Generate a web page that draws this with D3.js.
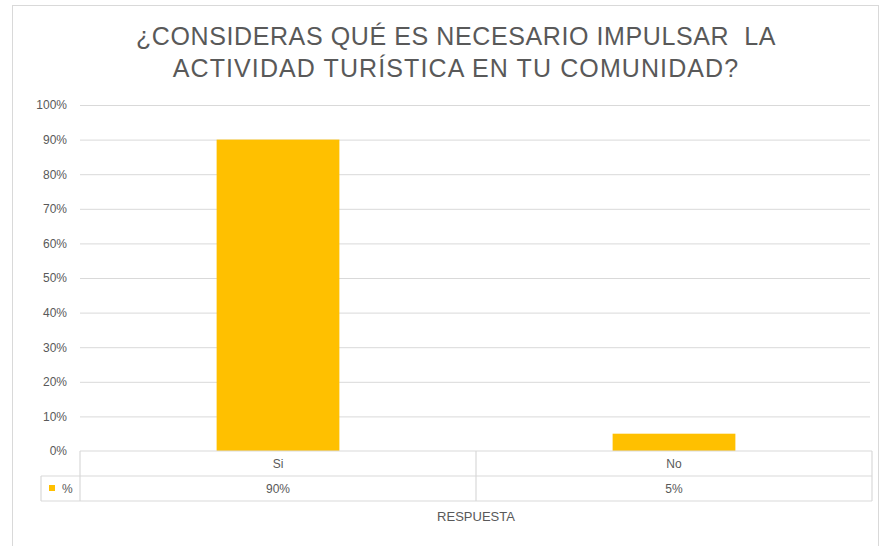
<!DOCTYPE html>
<html>
<head>
<meta charset="utf-8">
<script src="https://cdn.jsdelivr.net/npm/d3@7"></script>
<style>
  html, body { margin: 0; padding: 0; background: #fff; }
  svg { display: block; font-family: "Liberation Sans", Arial, sans-serif; }
</style>
</head>
<body>
<svg id="chart" width="881" height="546"></svg>
<script>
const titleLines = ["¿CONSIDERAS QUÉ ES NECESARIO IMPULSAR  LA", "ACTIVIDAD TURÍSTICA EN TU COMUNIDAD?"];
const categories = ["Si", "No"];
const values = [0.90, 0.05];
const valueLabels = ["90%", "5%"];
const seriesName = "%";
const yTicks = [0, 0.1, 0.2, 0.3, 0.4, 0.5, 0.6, 0.7, 0.8, 0.9, 1.0];
const xAxisTitle = "RESPUESTA";

const svg = d3.select("#chart");
const textColor = "#595959";
const gridColor = "#d9d9d9";
const barColor = "#FFC000";

// outer frame
svg.append("rect").attr("x", 12.5).attr("y", 5.5).attr("width", 866).attr("height", 600)
  .attr("fill", "none").attr("stroke", "#d9d9d9").attr("stroke-width", 1);

const plotLeft = 80, plotRight = 872, plotTop = 105, plotBottom = 451;
const x = d3.scaleBand().domain(categories).range([plotLeft, plotRight])
  .paddingInner(0.69).paddingOuter(0.345);
const xCell = d3.scaleBand().domain(categories).range([plotLeft, plotRight]).padding(0);
const y = d3.scaleLinear().domain([0, 1]).range([plotBottom, plotTop]);

// title
svg.append("g").selectAll("text").data(titleLines).join("text")
  .attr("x", 456).attr("y", (d, i) => 45 + i * 32)
  .attr("text-anchor", "middle").attr("font-size", 25).attr("fill", textColor)
  .attr("letter-spacing", (d, i) => i === 0 ? 0.6 : 1.1)
  .attr("xml:space", "preserve").style("white-space", "pre")
  .text(d => d);

// gridlines + y axis
const yAxis = d3.axisLeft(y).tickValues(yTicks).tickFormat(d3.format(".0%"))
  .tickSize(-(plotRight - plotLeft - 2)).tickPadding(13);
const gy = svg.append("g").attr("transform", `translate(${plotLeft},0)`).call(yAxis);
gy.select(".domain").remove();
gy.selectAll(".tick line").attr("stroke", gridColor).attr("stroke-width", 1)
  .attr("opacity", d => d === 0 ? 0 : 1);
gy.selectAll(".tick text").attr("fill", textColor).attr("font-size", 12)
  .attr("font-family", "Liberation Sans, Arial, sans-serif");

// bars
svg.append("g").selectAll("rect").data(categories).join("rect")
  .attr("x", d => x(d)).attr("width", x.bandwidth())
  .attr("y", (d, i) => y(values[i])).attr("height", (d, i) => y(0) - y(values[i]))
  .attr("fill", barColor);

// data table
const rowH = 25;
const row1Top = plotBottom, row2Top = plotBottom + rowH, tableBottom = plotBottom + 2 * rowH;
const tableLeft2 = 41;
const t = svg.append("g").attr("stroke", gridColor).attr("stroke-width", 1.2).attr("fill", "none");
t.append("line").attr("x1", plotLeft).attr("x2", plotRight).attr("y1", row1Top).attr("y2", row1Top);
t.append("line").attr("x1", tableLeft2).attr("x2", plotRight).attr("y1", row2Top).attr("y2", row2Top);
t.append("line").attr("x1", tableLeft2).attr("x2", plotRight).attr("y1", tableBottom).attr("y2", tableBottom);
t.append("line").attr("x1", tableLeft2).attr("x2", tableLeft2).attr("y1", row2Top).attr("y2", tableBottom);
t.append("line").attr("x1", plotRight).attr("x2", plotRight).attr("y1", row1Top).attr("y2", tableBottom);
t.selectAll("line.cell").data(categories).join("line").attr("class", "cell")
  .attr("x1", d => xCell(d)).attr("x2", d => xCell(d)).attr("y1", row1Top).attr("y2", tableBottom);

svg.append("g").selectAll("text").data(categories).join("text")
  .attr("x", d => xCell(d) + xCell.bandwidth() / 2).attr("y", row1Top + 17)
  .attr("text-anchor", "middle").attr("font-size", 12).attr("fill", textColor).text(d => d);
svg.append("g").selectAll("text").data(categories).join("text")
  .attr("x", d => xCell(d) + xCell.bandwidth() / 2).attr("y", row2Top + 17)
  .attr("text-anchor", "middle").attr("font-size", 12).attr("fill", textColor)
  .text((d, i) => valueLabels[i]);

// legend key in table
svg.append("rect").attr("x", 49).attr("y", row2Top + 9).attr("width", 6).attr("height", 6).attr("fill", barColor);
svg.append("text").attr("x", 62).attr("y", row2Top + 17).attr("font-size", 12).attr("fill", textColor).text(seriesName);

// x axis title
svg.append("text").attr("x", 476).attr("y", 521).attr("text-anchor", "middle")
  .attr("font-size", 13).attr("fill", textColor).text(xAxisTitle);
</script>
</body>
</html>
